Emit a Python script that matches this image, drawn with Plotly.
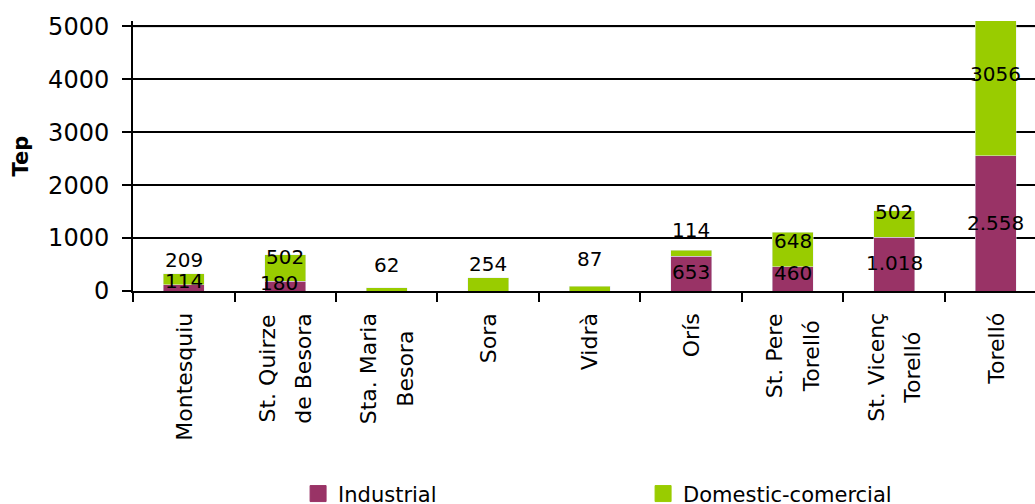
import plotly.graph_objects as go

categories = ["Montesquiu", "St. Quirze de Besora", "Sta. Maria Besora", "Sora", "Vidrà",
              "Orís", "St. Pere Torelló", "St. Vicenç Torelló", "Torelló"]
tick_label_lines = [["Montesquiu"], ["St. Quirze", "de Besora"], ["Sta. Maria", "Besora"],
                    ["Sora"], ["Vidrà"], ["Orís"], ["St. Pere", "Torelló"],
                    ["St. Vicenç", "Torelló"], ["Torelló"]]
industrial = [114, 180, 0, 0, 0, 653, 460, 1018, 2558]
domestic = [209, 502, 62, 254, 87, 114, 648, 502, 3056]
industrial_text = ["114", "180", "", "", "", "653", "460", "1.018", "2.558"]
domestic_text = ["209", "502", "62", "254", "87", "114", "648", "502", "3056"]
y_ticks = [0, 1000, 2000, 3000, 4000, 5000]

# label nudges in pixels (labels were hand-placed in the original)
ind_label_dy = [7, 3, 0, 0, 0, 2, 6, 1, 0]
ind_label_dx = [0, -6, 0, 0, 0, 0, 0, 0, 0]
dom_label_dy = [19, 11, 24, 20, 30, 23, 8, 12, 1]

C_IND = "#993366"
C_DOM = "#99CC00"
FONT = "DejaVu Sans"

fig = go.Figure()
fig.add_trace(go.Bar(x=categories, y=industrial, marker_color=C_IND, width=0.4,
                     showlegend=False, hoverinfo="skip"))
fig.add_trace(go.Bar(x=categories, y=domestic, marker_color=C_DOM, width=0.4,
                     showlegend=False, hoverinfo="skip"))
# legend entries
fig.add_trace(go.Scatter(x=[None], y=[None], mode="markers", name="Industrial",
                         marker=dict(symbol="square", size=16, color=C_IND,
                                     line=dict(color=C_IND, width=1))))
fig.add_trace(go.Scatter(x=[None], y=[None], mode="markers", name="Domestic-comercial",
                         marker=dict(symbol="square", size=16, color=C_DOM,
                                     line=dict(color=C_DOM, width=1))))

annotations = []
for i, c in enumerate(categories):
    if industrial_text[i]:
        annotations.append(dict(x=c, y=industrial[i] / 2, xref="x", yref="y",
                                text=industrial_text[i], showarrow=False,
                                font=dict(family=FONT, size=20, color="black"),
                                yshift=ind_label_dy[i], xshift=ind_label_dx[i]))
    if domestic_text[i]:
        annotations.append(dict(x=c, y=industrial[i] + domestic[i] / 2, xref="x", yref="y",
                                text=domestic_text[i], showarrow=False,
                                font=dict(family=FONT, size=20, color="black"),
                                yshift=dom_label_dy[i]))
    label = "<br>".join('<span style="font-size:22px">%s</span>' % ln
                        for ln in tick_label_lines[i])
    annotations.append(dict(x=c, y=0, xref="x", yref="paper", text=label,
                            showarrow=False, textangle=-90, align="center",
                            xanchor="center", yanchor="top", yshift=-20,
                            font=dict(family=FONT, size=28, color="black")))

fig.update_layout(
    width=1035, height=504,
    margin=dict(l=133, r=0, t=21, b=213),
    paper_bgcolor="white", plot_bgcolor="white",
    barmode="stack",
    font=dict(family=FONT, color="black"),
    showlegend=True,
    legend=dict(orientation="h", xref="container", yref="container",
                x=0.288, y=0.02, xanchor="left", yanchor="middle",
                traceorder="normal",
                font=dict(family=FONT, size=21, color="black"),
                entrywidth=300, entrywidthmode="pixels",
                bgcolor="rgba(0,0,0,0)"),
    annotations=annotations,
    shapes=[dict(type="line", xref="paper", yref="y", x0=0, x1=1, y0=5000, y1=5000,
                 line=dict(color="#808080", width=2), layer="below")],
)
fig.update_xaxes(type="category", range=[-0.5, 8.387], showticklabels=False,
                 ticks="outside", ticklen=9, tickwidth=2, tickcolor="black",
                 tickson="boundaries", showline=True, linecolor="black", linewidth=2,
                 showgrid=False, fixedrange=True)
fig.update_yaxes(range=[0, 5100], tickvals=y_ticks, ticks="outside", ticklen=9,
                 tickwidth=2, tickcolor="black", showline=True, linecolor="black",
                 linewidth=2, showgrid=True, gridcolor="black", gridwidth=2,
                 zeroline=False, tickfont=dict(family=FONT, size=24, color="black"),
                 ticklabelstandoff=8,
                 title=dict(text="<b>Tep</b>", font=dict(family=FONT, size=21, color="black"),
                            standoff=14),
                 automargin=False, fixedrange=True)

fig.write_html("out.html")
